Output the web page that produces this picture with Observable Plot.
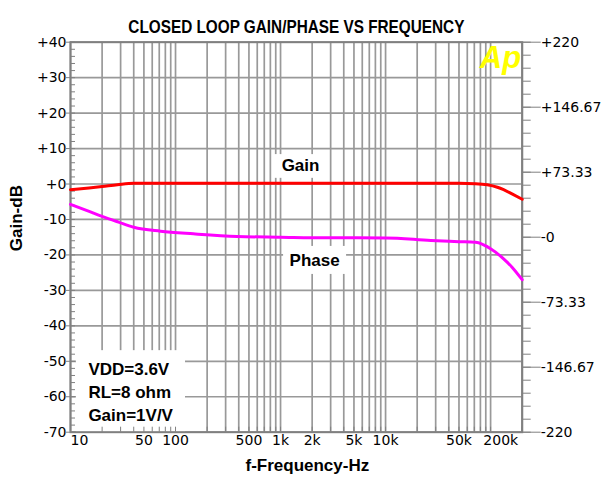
<!DOCTYPE html>
<html><head><meta charset="utf-8">
<script src="https://cdn.jsdelivr.net/npm/d3@7"></script>
<script src="https://cdn.jsdelivr.net/npm/@observablehq/plot@0.6"></script>
<style>body{margin:0;background:#fff}</style>
</head><body><div id="chart"></div>
<script>
// ---- data ----
const gainFreq = [10, 15, 20, 28, 40, 100, 1000, 10000, 50000, 72000, 93000, 116000, 133000, 160000, 200000];
const gainDb   = [-1.6, -1.1, -0.7, -0.2, 0.2, 0.2, 0.2, 0.2, 0.2, 0.1, -0.2, -0.9, -1.6, -2.8, -4.3];
const phaseFreq = [10, 14.4, 20, 28.6, 40, 72, 148, 386, 1000, 2800, 10000, 27000, 50000, 72000, 100000, 133000, 160000, 200000];
const phaseDeg  = [37, 30, 23.4, 17, 11.3, 6.8, 3.8, 0.8, 0, -0.7, -0.8, -3.7, -5, -5.8, -13, -24.4, -33.8, -48];

const xTickValues = [10, 50, 100, 500, 1000, 2000, 5000, 10000, 50000, 200000];
const xTickLabels = ["10", "50", "100", "500", "1k", "2k", "5k", "10k", "50k", "200k"];
const gainTicks = [40, 30, 20, 10, 0, -10, -20, -30, -40, -50, -60, -70];
const gainTickLabels = ["+40", "+30", "+20", "+10", "+0", "-10", "-20", "-30", "-40", "-50", "-60", "-70"];
const phaseTicks = [220, 146.67, 73.33, 0, -73.33, -146.67, -220];
const phaseTickLabels = ["+220", "+146.67", "+73.33", "-0", "-73.33", "-146.67", "-220"];

const titleText = "CLOSED LOOP GAIN/PHASE VS FREQUENCY";
const xTitle = "f-Frequency-Hz";
const yTitle = "Gain-dB";
const curveLabels = [{text: "Gain", f: 1550, db: 5.1}, {text: "Phase", f: 2110, db: -21.6}];
const noteLines = [{text: "VDD=3.6V", db: -52.2}, {text: "RL=8 ohm", db: -58.7}, {text: "Gain=1V/V", db: -65.2}];
const whiteBoxes = [
  {f1: 840, f2: 2865, d1: 1.6, d2: 8.3},
  {f1: 1069, f2: 4254, d1: -25.5, d2: -17.6},
  {f1: 11.4, f2: 124.5, d1: -70, d2: -47}
];

// ---- helpers ----
const phaseToGain = p => -15 + p / 4; // right axis (-220..220) onto left axis (-70..40)
const gainData = gainFreq.map((f, i) => ({f, v: gainDb[i]}));
const phaseData = phaseFreq.map((f, i) => ({f, v: phaseToGain(phaseDeg[i])}));
const gridFreqs = [];
for (const dec of [10, 100, 1000, 10000, 100000]) for (let m = 1; m <= 9; m++) if (dec * m <= 200000) gridFreqs.push(dec * m);
gridFreqs.push(200000);
const minorGain = d3.range(-70, 40.01, 2);
const minorPhase = d3.range(0, 31).map(i => -220 + i * 440 / 30);
const xLab = new Map(xTickValues.map((v, i) => [v, xTickLabels[i]]));
const gLab = new Map(gainTicks.map((v, i) => [v, gainTickLabels[i]]));
const pY = phaseTicks.map(phaseToGain);

const tickFont = {fontFamily: "DejaVu Sans", fontSize: 14, fill: "black"};
const boldFont = {fontFamily: "Liberation Sans", fontWeight: "bold", fill: "black"};
const gridColor = "#999999";
const axisColor = "#808080";

const chart = Plot.plot({
  width: 604, height: 486,
  marginLeft: 70, marginRight: 82.3, marginTop: 41.7, marginBottom: 54.3,
  x: {type: "log", domain: [10, 200000], axis: null},
  y: {domain: [-70, 40], axis: null},
  style: {background: "white", overflow: "visible"},
  marks: [
    Plot.ruleX(gridFreqs, {stroke: gridColor, strokeWidth: 1.7}),
    Plot.ruleY(gainTicks, {stroke: gridColor, strokeWidth: 1.7}),
    Plot.rect(whiteBoxes, {x1: "f1", x2: "f2", y1: "d1", y2: "d2", fill: "white"}),
    Plot.axisX(gridFreqs, {anchor: "bottom", tickSize: -5, tickFormat: () => "", stroke: axisColor}),
    Plot.axisY(minorGain, {anchor: "left", tickSize: -5, tickFormat: () => "", stroke: axisColor}),
    Plot.axisY(gainTicks, {anchor: "left", tickSize: 4, tickFormat: () => "", stroke: axisColor}),
    Plot.axisY(minorPhase.map(phaseToGain), {anchor: "right", tickSize: 8, tickFormat: () => "", stroke: axisColor}),
    Plot.axisY(pY, {anchor: "right", tickSize: 18, tickFormat: () => "", stroke: axisColor}),
    Plot.frame({stroke: axisColor, strokeWidth: 2}),
    // tick labels
    Plot.text(gainTicks, {y: d => d, text: d => gLab.get(d), frameAnchor: "left", textAnchor: "end", dx: -4, ...tickFont}),
    Plot.text(pY, {y: d => d, text: d => phaseTickLabels[pY.indexOf(d)], frameAnchor: "right", textAnchor: "start", dx: 18.5, ...tickFont}),
    Plot.text(xTickValues.slice(0, 1), {x: d => d, text: d => xLab.get(d), frameAnchor: "bottom", textAnchor: "start", dy: 12.5, ...tickFont}),
    Plot.text(xTickValues.slice(1, -1), {x: d => d, text: d => xLab.get(d), frameAnchor: "bottom", dy: 12.5, ...tickFont}),
    Plot.text(xTickValues.slice(-1), {x: d => d, text: d => xLab.get(d), frameAnchor: "bottom", textAnchor: "end", dx: -4, dy: 12.5, ...tickFont}),
    // curves
    Plot.line(gainData, {x: "f", y: "v", stroke: "#ff0000", strokeWidth: 3, curve: "monotone-x"}),
    Plot.line(phaseData, {x: "f", y: "v", stroke: "#ff00ff", strokeWidth: 3, curve: "monotone-x"}),
    // annotations
    Plot.text(curveLabels, {x: "f", y: "db", text: "text", fontSize: 17, ...boldFont}),
    Plot.text(noteLines, {x: 14.8, y: "db", text: "text", textAnchor: "start", fontSize: 17, ...boldFont}),
    Plot.text(["Ap"], {x: 124000, y: 35.5, fontSize: 31, fontFamily: "Liberation Sans", fontWeight: "bold", fontStyle: "italic", fill: "#ffff00"}),
    // titles
    Plot.text([titleText], {frameAnchor: "top", dy: -21.5, fontSize: 17.5, ...boldFont}),
    Plot.text([xTitle], {frameAnchor: "bottom", dx: 11, dy: 39, fontSize: 17, ...boldFont}),
    Plot.text([yTitle], {frameAnchor: "left", rotate: -90, dx: -54, dy: 14, fontSize: 17, ...boldFont})
  ]
});
document.getElementById("chart").append(chart);
// condense the title like the reference's narrow bold face
d3.select(chart).selectAll("text").filter(function() { return this.textContent === titleText; })
  .attr("textLength", 336).attr("lengthAdjust", "spacingAndGlyphs");
</script>
</body></html>
